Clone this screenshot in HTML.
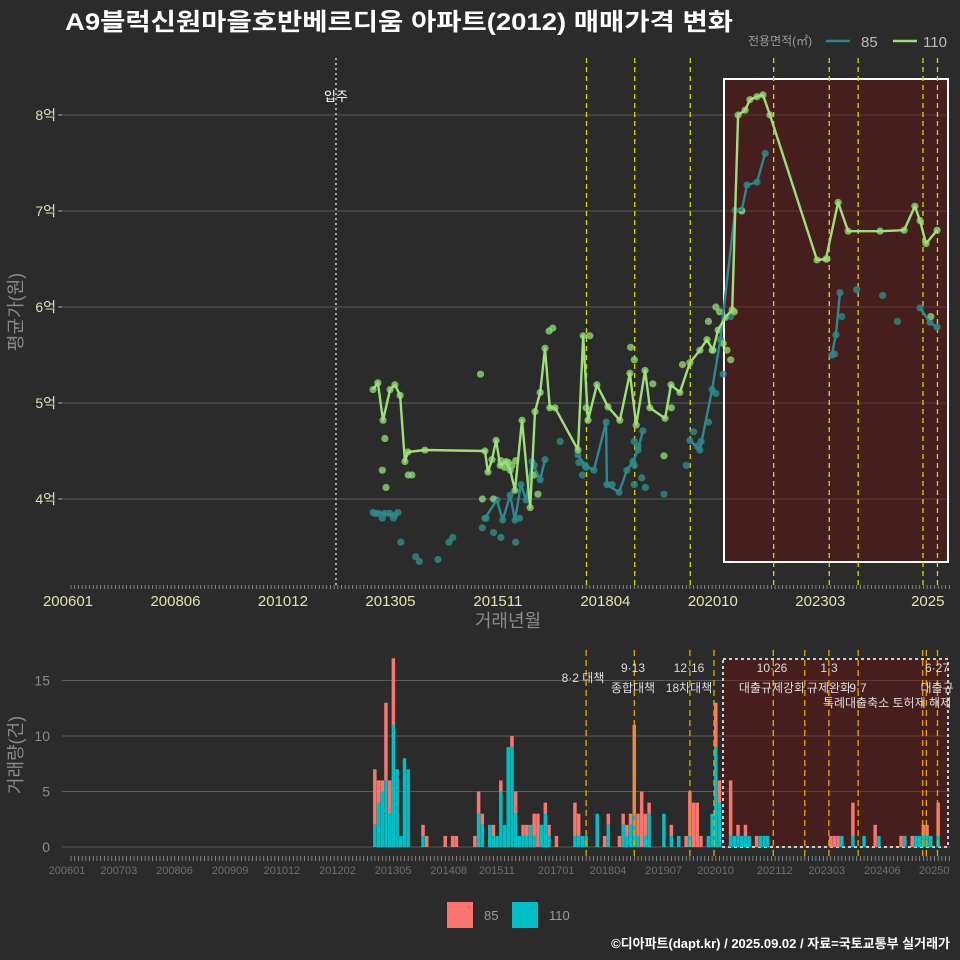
<!DOCTYPE html>
<html><head><meta charset="utf-8">
<style>
html,body{margin:0;padding:0;background:#2b2b2b;}
svg{display:block;font-family:"Liberation Sans","Noto Sans CJK KR",sans-serif;}
</style></head>
<body>
<svg id="c" width="960" height="960" viewBox="0 0 960 960" xmlns="http://www.w3.org/2000/svg">
<rect x="0" y="0" width="960" height="960" fill="#2b2b2b"/>
<text x="65" y="30" fill="#ffffff" font-size="24" font-weight="bold" textLength="668" lengthAdjust="spacingAndGlyphs">A9블럭신원마을호반베르디움 아파트(2012) 매매가격 변화</text>
<g>
<text x="748" y="45" fill="#9a9a9a" font-size="12">전용면적(㎡)</text>
<line x1="826" y1="41" x2="850" y2="41" stroke="#2a8a8e" stroke-width="2.5"/>
<text x="861" y="47" fill="#bbbbbb" font-size="15">85</text>
<line x1="893" y1="41" x2="917" y2="41" stroke="#9de07a" stroke-width="2.5"/>
<text x="923" y="47" fill="#bbbbbb" font-size="15">110</text>
</g>
<text transform="translate(22,312) rotate(-90)" text-anchor="middle" fill="#8a8a8a" font-size="18">평균가(원)</text>
<text x="508" y="627" text-anchor="middle" fill="#8a8a8a" font-size="18">거래년월</text>
<text transform="translate(22,755) rotate(-90)" text-anchor="middle" fill="#8a8a8a" font-size="18">거래량(건)</text>
<g id="topPanel"></g>
<g id="botPanel"></g>
<g>
<rect x="447" y="902" width="26" height="26" fill="#f8766d"/>
<text x="484" y="920" fill="#9a9a9a" font-size="13">85</text>
<rect x="512" y="902" width="26" height="26" fill="#00bfc4"/>
<text x="549" y="920" fill="#9a9a9a" font-size="13">110</text>
</g>
<text x="950" y="948" text-anchor="end" fill="#ffffff" font-size="13" font-weight="bold">©디아파트(dapt.kr) / 2025.09.02 / 자료=국토교통부 실거래가</text>
</svg>
<script>
// ---- data (months counted from 2006-01 = 0; values in 억) ----
const line110Months = [81.5,82.8,84.2,86.1,87.4,88.8,90.1,90.9,95.5,111.7,112.5,113.6,114.7,115.8,117.4,118.5,119.8,121.7,123.9,125.2,126.6,127.9,129.2,130.6,136.8,138.2,139.5,141.9,144.9,148.1,150.8,152.5,154.9,156.2,160.3,161.9,164.3,167,169.7,171.6,173.2,174.6,176.5,178.4,180,181.9,183.2,185.1,186.7,188.6,201.3,203.7,207,209.7,218.3,224.8,227.7,229.1,230.7,233.7];
const line110Values = [5.14,5.21,4.82,5.14,5.19,5.08,4.39,4.49,4.51,4.50,4.28,4.41,4.61,4.35,4.39,4.30,4.09,4.82,3.91,4.91,5.11,5.57,4.95,4.95,4.51,5.70,4.82,5.19,4.96,4.82,5.31,4.77,5.34,4.95,4.84,5.19,5.11,5.42,5.55,5.66,5.55,5.76,5.89,5.97,8.0,8.05,8.16,8.19,8.21,8.0,6.49,6.5,7.09,6.79,6.79,6.8,7.05,6.9,6.66,6.8];
const line85Months = [81.5,84.7,87.4,88.2,111.7,114.9,116.5,118.5,119.8,121.4,122.8,124.4,126.6,127.9,136.8,138.7,141.1,144.4,144.6,147.9,150,151.6,153,154.3,167,169.7,173,175.2,179.2,181,182.4,185.1,187.3,205.3,206.4,207.5,229.1,231.8,233.7];
const line85Values = [3.86,3.85,3.83,3.86,3.80,3.99,3.78,4.04,3.78,4.15,3.99,4.39,4.20,4.41,4.46,4.35,4.30,4.80,4.15,4.07,4.30,4.39,4.51,4.71,4.61,4.51,5.14,5.66,7.01,7.01,7.27,7.30,7.60,5.5,5.71,6.15,5.99,5.84,5.79];
const extra110Months = [84,84.7,85,91,92,110.5,111,114,116,117,118,119,120,125,126,129,130,139,140,151,152,157,160,162,165,172,173,174,175,176,177,178,179,181,204,232];
const extra110Values = [4.3,4.63,4.12,4.25,4.25,5.3,4.0,4.0,4.4,4.33,4.38,4.35,4.4,4.25,4.05,5.75,5.78,4.95,5.7,5.58,5.45,5.2,4.45,4.95,5.4,5.85,5.55,6.0,5.95,5.62,5.55,5.45,5.95,7.0,6.5,5.9];
const extra85Months = [82,83,84,86,87,89,93,94,99,102,103,111,112,114,116,120,121,125,132,137,138,139,146,152,152,152,153,154,155,160,166,168,169,170,172,174,176,178,206,208,212,219,223];
const extra85Values = [3.85,3.85,3.8,3.85,3.8,3.55,3.4,3.35,3.37,3.55,3.6,3.7,3.8,3.65,3.6,3.55,3.8,4.35,4.6,4.38,4.25,4.33,4.15,4.15,4.35,4.6,4.55,4.22,4.12,4.05,4.35,4.7,4.55,4.6,4.8,5.1,5.3,5.9,5.51,5.9,6.18,6.12,5.85];
const priceTicks = [4,5,6,7,8];
const priceTickLabels = ['4억','5억','6억','7억','8억'];
const topXLabels = ['200601','200806','201012','201305','201511','201804','202010','202303','2025'];
const topXLabelMonths = [0,29,58,87,116,145,174,203,232];
const botXLabels = ['200601','200703','200806','200909','201012','201202','201305','201408','201511','201701','201804','201907','202010','202112','202303','202406','20250'];
const botXLabelMonths = [0,14,29,44,58,73,88,103,116,132,146,161,175,191,205,220,234];
const volTicks = [0,5,10,15];
const volMonths = [82,83,84,85,86,87,88,89,90,91,95,96,101,103,104,109,110,111,113,114,115,116,117,118,119,120,121,122,123,124,125,126,127,128,129,131,136,137,138,139,142,144,145,148,149,150,151,152,153,154,155,156,160,162,164,166,167,168,169,170,172,173,174,175,178,179,180,181,182,183,185,186,187,188,205,206,207,208,211,214,217,218,224,225,227,228,229,230,231,232,234];
const vol110 = [2,4,5,6,3,11,7,1,8,7,1,0,0,0,0,0,3,2,2,1,1,5,2,9,9,3,1,1,1,2,1,0,2,3,1,0,1,1,1,1,3,0,2,0,2,1,2,3,1,0,1,3,3,1,1,0,1,0,0,0,1,3,9,4,1,1,1,1,1,1,0,1,1,1,0,0,0,1,1,1,0,1,0,1,0,1,1,1,1,1,1];
const vol85 = [5,2,1,7,3,6,0,0,0,0,1,1,1,1,1,1,2,1,0,1,0,1,0,0,1,2,0,1,1,0,2,3,0,1,1,1,3,2,0,0,0,1,1,1,1,1,1,8,2,5,2,1,0,1,0,1,4,4,4,1,0,0,4,2,5,0,1,0,1,0,1,0,0,0,1,1,1,0,3,0,2,0,1,0,1,0,0,1,1,0,3];
const topEventMonths = [139.1,152.1,167.1,189.6,204.6,212.4,229.9,233.8];
const botEventMonths = [139,152,167,173.5,189.5,198,204.5,212.4,229.8,230.8,233.8];
const moveInMonth = 71.5;

{
const NS='http://www.w3.org/2000/svg';
const xm = m => 71 + m*3.706;
const yp = v => 499 - (v-4)*96;
const yv = n => 847 - n*11.1;
function mk(parent, tag, attrs){const e=document.createElementNS(NS,tag);for(const k in attrs)e.setAttribute(k,attrs[k]);parent.appendChild(e);return e;}
const topG=document.getElementById('topPanel'), botG=document.getElementById('botPanel');

priceTicks.forEach((v,i)=>{
  const g=mk(topG,'line',{x1:62,x2:950,y1:yp(v),y2:yp(v),stroke:'#5a5a5a','stroke-width':1});
  
  
  const t=mk(topG,'text',{x:56,y:yp(v)+5,'text-anchor':'end',fill:'#e2e2b0','font-size':14});
  t.textContent=priceTickLabels[i];
  
  
  const tk=mk(topG,'line',{x1:58,x2:62,y1:yp(v),y2:yp(v),stroke:'#aaa'});
  
  
});
const sh=mk(topG,'rect',{x:724,y:79,width:224,height:483,fill:'rgba(110,12,12,0.42)',stroke:'#ffffff','stroke-width':2});


const mv=mk(topG,'line',{x1:xm(moveInMonth),x2:xm(moveInMonth),y1:58,y2:585,stroke:'#cccccc','stroke-dasharray':'2,3','stroke-width':1.5});


const mvt=mk(topG,'text',{x:xm(moveInMonth),y:101,'text-anchor':'middle',fill:'#ffffff','font-size':13});
mvt.textContent='입주';


topEventMonths.forEach(m=>{
  const l=mk(topG,'line',{x1:xm(m),x2:xm(m),y1:58,y2:585,stroke:'#d8d800','stroke-dasharray':'5,4','stroke-width':1.3});
  
  
});
for(let m=0;m<=237;m++){
  const l=mk(topG,'line',{x1:xm(m),x2:xm(m),y1:585,y2:589,stroke:'#999','stroke-width':0.8});
  
  
  const l2=mk(botG,'line',{x1:xm(m),x2:xm(m),y1:856,y2:861,stroke:'#999','stroke-width':0.8});
  
  
}
topXLabels.forEach((s,i)=>{
  const t=mk(topG,'text',{x:xm(topXLabelMonths[i])-3,y:606,'text-anchor':'middle',fill:'#e2e2b0','font-size':15});
  t.textContent=s;
  
  
});
function dots(ms,vs,col,name){
  ms.forEach((m,i)=>{
    const c=mk(topG,'circle',{cx:xm(m),cy:yp(vs[i]),r:3.6,fill:col,'fill-opacity':0.8});
    
    
  });
}
dots(extra85Months,extra85Values,'#2f8c8a','trade-point-85');
dots(line85Months,line85Values,'#2f8c8a','trade-point-85');
dots(extra110Months,extra110Values,'#8fd672','trade-point-110');
dots(line110Months,line110Values,'#8fd672','trade-point-110');
function path(ms,vs,col,name,maxGap){
  const d=ms.map((m,i)=>((i===0||(m-ms[i-1])>maxGap)?'M':'L')+xm(m).toFixed(1)+','+yp(vs[i]).toFixed(1)).join(' ');
  const p=mk(topG,'path',{d:d,fill:'none',stroke:col,'stroke-width':2.4,'stroke-linejoin':'round'});
  
  
}
path(line85Months,line85Values,'#2a8a8e','avg-price-line-85',4);
path(line110Months,line110Values,'#9de07a','avg-price-line-110',1000);

volTicks.forEach(v=>{
  const g=mk(botG,'line',{x1:62,x2:950,y1:yv(v),y2:yv(v),stroke:'#5a5a5a','stroke-width':1});
  
  
  const t=mk(botG,'text',{x:50,y:yv(v)+5,'text-anchor':'end',fill:'#8a8a8a','font-size':14});
  t.textContent=String(v);
  
  
});
const bsh=mk(botG,'rect',{x:723,y:659,width:225,height:188,fill:'rgba(110,12,12,0.42)',stroke:'#cccccc','stroke-width':2,'stroke-dasharray':'3,3'});


volMonths.forEach((m,i)=>{
  const x=xm(m)-1.8;
  const c=vol110[i]||0, r=vol85[i]||0;
  if(c>0){const b=mk(botG,'rect',{x:x,y:yv(c),width:3.5,height:c*11.1,fill:'#00bfc4'});
    
    }
  if(r>0){const b=mk(botG,'rect',{x:x,y:yv(c+r),width:3.5,height:r*11.1,fill:'#f8766d'});
    
    }
});
botEventMonths.forEach(m=>{
  const l=mk(botG,'line',{x1:xm(m),x2:xm(m),y1:650,y2:857,stroke:'#e0a000','stroke-dasharray':'6,4','stroke-width':1.4});
  
  
});
botXLabels.forEach((s,i)=>{
  const t=mk(botG,'text',{x:xm(botXLabelMonths[i])-4,y:874,'text-anchor':'middle',fill:'#6e6e6e','font-size':11});
  t.textContent=s;
  
  
});
const notes=[[583,682,'8·2 대책'],[633,672,'9·13'],[633,692,'종합대책'],[689,672,'12·16'],[689,692,'18차대책'],[772,672,'10·26'],[772,692,'대출규제강화'],[829,672,'1·3'],[829,692,'규제완화'],[858,692,'9·7'],[887,707,'특례대출축소 토허제 해제'],[937,672,'6·27'],[937,692,'대출규']];
notes.forEach(n=>{
  const t=mk(botG,'text',{x:n[0],y:n[1],'text-anchor':'middle',fill:'#dddddd','font-size':12});
  t.textContent=n[2];
  
  
});
}
</script>
</body></html>
